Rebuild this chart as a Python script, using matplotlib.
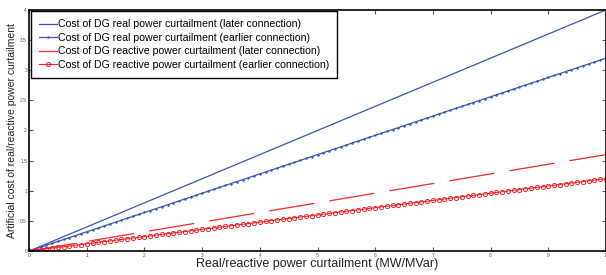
import numpy as np
import matplotlib
matplotlib.use("Agg")
import matplotlib.pyplot as plt

plt.rcParams['font.family'] = ['Liberation Sans', 'DejaVu Sans']

# data
curtail = np.round(np.arange(0, 10.0001, 0.1), 2)  # MW / MVar
slope_real_later = 0.40
slope_real_earlier = 0.32
slope_react_later = 0.16
slope_react_earlier = 0.12
labels = [
    "Cost of DG real power curtailment (later connection)",
    "Cost of DG real power curtailment (earlier connection)",
    "Cost of DG reactive power curtailment (later connection)",
    "Cost of DG reactive power curtailment (earlier connection)",
]
x_ticks = [0, 1, 2, 3, 4, 5, 6, 7, 8, 9, 10]
y_ticks = [0, 0.5, 1, 1.5, 2, 2.5, 3, 3.5, 4]

blue = "#3a54b4"
red = "#f0282d"

fig = plt.figure(figsize=(6.06, 2.75), dpi=100)
ax = fig.add_axes([0.048, 0.087, 0.952, 0.877])

ax.plot(curtail, slope_real_later * curtail, color=blue, lw=0.9, label=labels[0])
ax.plot(curtail, slope_real_earlier * curtail, color=blue, lw=0.9, marker='.', ms=1.5,
        label=labels[1])
l3, = ax.plot(curtail, slope_react_later * curtail, color=red, lw=0.9, label=labels[2])
l3.set_dashes([36.5, 12.2])
ax.plot(curtail, slope_react_earlier * curtail, color=red, lw=0.8, marker='o', ms=3,
        mfc='none', mew=0.7, label=labels[3])

ax.set_xlim(0, 10)
ax.set_ylim(0, 4)
ax.set_xticks(x_ticks)
ax.set_yticks(y_ticks)
ax.set_xticklabels([str(v) for v in x_ticks])
ax.set_yticklabels([f"{v:g}" for v in y_ticks])
ax.tick_params(direction='in', length=3, width=0.8, labelsize=3.5, pad=1.5,
               top=True, right=True, colors='#555555')
for s in ax.spines.values():
    s.set_linewidth(1.2)
    s.set_color('black')

ax.set_xlabel("Real/reactive power curtailment (MW/MVar)", fontsize=9, labelpad=0, color='#222222')
ax.set_ylabel("Artificial cost of real/reactive power curtailment", fontsize=7.5, labelpad=2, color='#222222')

leg = ax.legend(loc='upper left', fontsize=7.6, handlelength=1.7, handletextpad=0.1,
                borderaxespad=0.15, borderpad=0.75, labelspacing=0.33, fancybox=False,
                framealpha=1, edgecolor='black')
leg.get_frame().set_linewidth(1.0)
leg.get_lines()[2].set_linestyle('-')

fig.savefig("out.png", dpi=100)
